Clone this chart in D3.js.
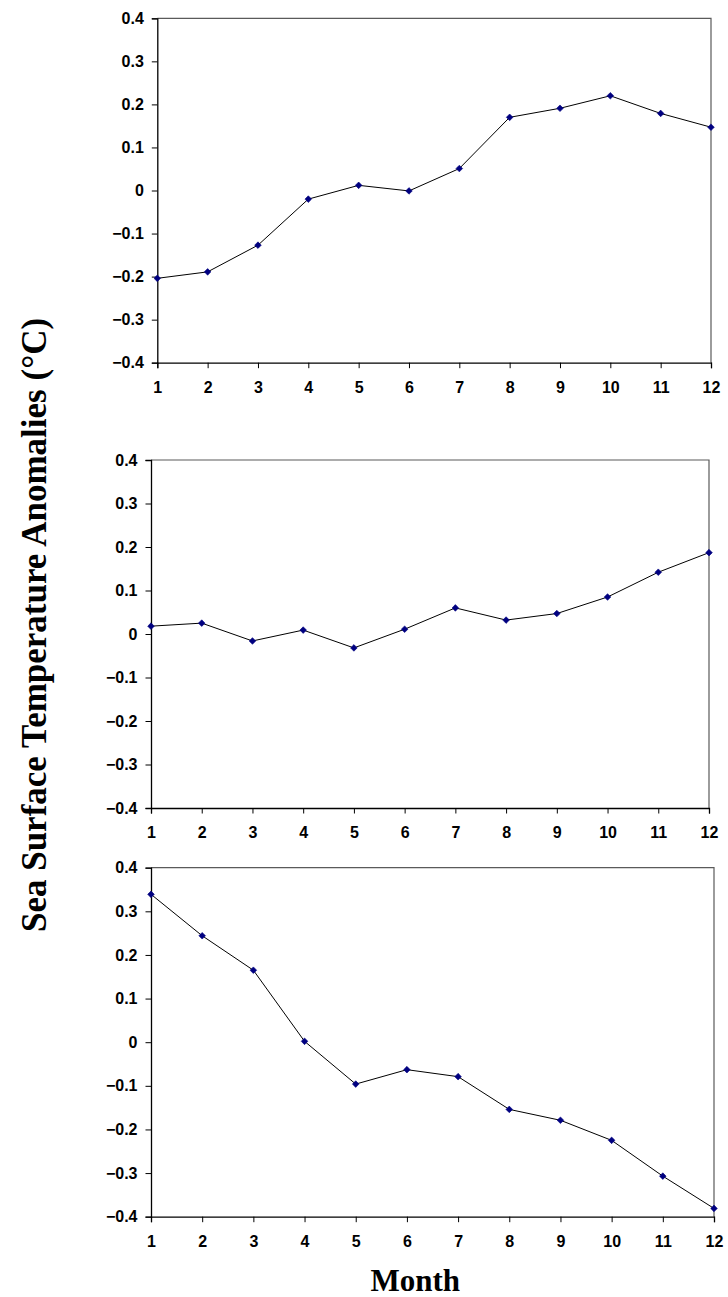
<!DOCTYPE html>
<html>
<head>
<meta charset="utf-8">
<script src="https://cdn.jsdelivr.net/npm/d3@7/dist/d3.min.js"></script>
<style>
  html, body { margin: 0; padding: 0; background: #fff; }
  svg { display: block; }
  .tick text { font-family: "Liberation Sans", Arial, sans-serif; font-weight: bold; font-size: 16px; fill: #000; }
</style>
</head>
<body>
<svg id="chart" width="728" height="1297"></svg>
<script>
// ---- data ----
const months = [1, 2, 3, 4, 5, 6, 7, 8, 9, 10, 11, 12];
const yTicks = [-0.4, -0.3, -0.2, -0.1, 0, 0.1, 0.2, 0.3, 0.4];
const seriesA = [-0.204, -0.189, -0.127, -0.020, 0.012, -0.001, 0.051, 0.170, 0.191, 0.220, 0.179, 0.147];
const seriesB = [0.018, 0.025, -0.016, 0.009, -0.032, 0.011, 0.060, 0.032, 0.047, 0.085, 0.142, 0.187];
const seriesC = [0.339, 0.244, 0.165, 0.002, -0.096, -0.063, -0.079, -0.154, -0.179, -0.225, -0.307, -0.381];
const yLabel = "Sea Surface Temperature Anomalies (\u00B0C)";
const xLabel = "Month";

// ---- layout ----
const panels = [
  { data: seriesA, left: 157.3, right: 711, top: 18.3, bottom: 362.7 },
  { data: seriesB, left: 151, right: 709, top: 460, bottom: 808 },
  { data: seriesC, left: 151, right: 714, top: 867.7, bottom: 1216.7 }
];

const svg = d3.select("#chart");

// square-proportioned diamond marker
const squareDiamond = {
  draw(ctx, size) {
    const r = Math.sqrt(size / 2);
    ctx.moveTo(0, -r); ctx.lineTo(r, 0); ctx.lineTo(0, r); ctx.lineTo(-r, 0); ctx.closePath();
  }
};

panels.forEach(p => {
  const x = d3.scaleLinear().domain([1, 12]).range([p.left, p.right]);
  const y = d3.scaleLinear().domain([-0.4, 0.4]).range([p.bottom, p.top]);
  const g = svg.append("g");

  // top & right border
  g.append("path")
    .attr("d", `M${x(1)},${y(0.4)}H${x(12)}V${y(-0.4)}`)
    .attr("fill", "none").attr("stroke", "#5a5a5a").attr("stroke-width", 1.2);

  // y axis
  const ya = g.append("g").attr("transform", `translate(${x(1)},0)`)
    .call(d3.axisLeft(y).tickValues(yTicks).tickSize(5.5).tickPadding(8)
      .tickFormat(d => d === 0 ? "0" : d3.format(".1f")(d)));
  ya.select(".domain").attr("stroke", "#000").attr("stroke-width", 1.3);
  ya.selectAll(".tick line").attr("stroke", "#000");

  // x axis
  const xa = g.append("g").attr("transform", `translate(0,${y(-0.4)})`)
    .call(d3.axisBottom(x).tickValues(months).tickSize(5.5).tickPadding(13)
      .tickFormat(d3.format("d")));
  xa.select(".domain").attr("stroke", "#000").attr("stroke-width", 1.3);
  xa.selectAll(".tick line").attr("stroke", "#000");

  // line
  const line = d3.line().x((d, i) => x(months[i])).y(d => y(d));
  g.append("path").datum(p.data)
    .attr("d", line).attr("fill", "none").attr("stroke", "#000").attr("stroke-width", 1);

  // diamond markers
  const sym = d3.symbol().type(squareDiamond).size(22);
  g.selectAll(".pt").data(p.data).enter().append("path")
    .attr("transform", (d, i) => `translate(${x(months[i])},${y(d)})`)
    .attr("d", sym).attr("fill", "#000080").attr("stroke", "#000080").attr("stroke-width", 0.6);
});

// axis titles
svg.append("text")
  .attr("x", 415.3).attr("y", 1290.7)
  .attr("text-anchor", "middle")
  .style("font-family", "'Liberation Serif', 'Times New Roman', serif")
  .style("font-weight", "bold").style("font-size", "31px")
  .text(xLabel);

svg.append("text")
  .attr("transform", "translate(46,625) rotate(-90)")
  .attr("text-anchor", "middle")
  .style("font-family", "'Liberation Serif', 'Times New Roman', serif")
  .style("font-weight", "bold").style("font-size", "35px")
  .text(yLabel);
</script>
</body>
</html>
